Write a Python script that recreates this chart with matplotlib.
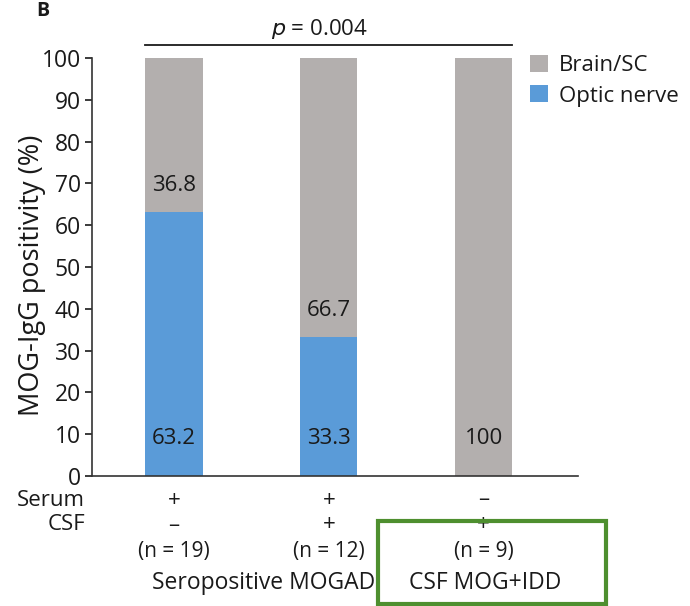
import matplotlib.pyplot as plt
from matplotlib.patches import Rectangle

plt.rcParams["font.family"] = ["Open Sans", "DejaVu Sans"]

groups = ["Seropositive MOGAD", "CSF MOG+IDD"]
n_counts = [19, 12, 9]
serum = ["+", "+", "\u2013"]
csf = ["\u2013", "+", "+"]
optic = [63.2, 33.3, 0]
brain = [36.8, 66.7, 100]

gray = "#b3afae"
blue = "#5a9bd8"
ink = "#1a1a1a"
fs = 16

fig = plt.figure(figsize=(6.9, 6.06), dpi=100)
ax = fig.add_axes([92 / 690, (606 - 476) / 606, (578 - 92) / 690, 418 / 606])

x = range(len(optic))
w = 0.37
ax.bar(x, optic, width=w, color=blue, label="Optic nerve")
ax.bar(x, brain, width=w, bottom=optic, color=gray, label="Brain/SC")

# value labels: bottom of bar and just above the optic nerve segment
for i in x:
    if optic[i] > 0:
        ax.text(i, 9, f"{optic[i]:.1f}", ha="center", va="center", fontsize=fs, color=ink)
        ax.text(i, optic[i] + 6.2, f"{brain[i]:.1f}", ha="center", va="center", fontsize=fs, color=ink)
    else:
        ax.text(i, 9, f"{brain[i]:.0f}", ha="center", va="center", fontsize=fs, color=ink)

ax.set_xlim(-0.53, 2.61)
ax.set_ylim(0, 100)
ax.set_yticks(range(0, 101, 10))
ax.tick_params(axis="y", labelsize=16.5, length=5, width=1.2, direction="out", colors=ink, pad=3)
ax.set_xticks([])
for s in ["top", "right"]:
    ax.spines[s].set_visible(False)
for s in ["left", "bottom"]:
    ax.spines[s].set_linewidth(1.2)
    ax.spines[s].set_color("#333333")
ax.set_ylabel("MOG-IgG positivity (%)", fontsize=19.5, color=ink)
ax.yaxis.set_label_coords(-0.095, 0.48)

# significance bracket
ax.plot([-w / 2, 2 + w / 2], [103.1, 103.1], color=ink, lw=1.3, clip_on=False)
ax.text(0.94, 107.0, r"$\it{p}$ = 0.004", ha="center", va="center", fontsize=fs, color=ink)

# legend
handles, labels = ax.get_legend_handles_labels()
ax.legend(handles[::-1], labels[::-1], loc="upper left", bbox_to_anchor=(0.883, 1.028),
          borderaxespad=0, frameon=False, fontsize=fs, handlelength=0.8, handleheight=0.8,
          handletextpad=0.5, labelspacing=0.4, labelcolor=ink)

# rows under the axis
tr = ax.get_xaxis_transform()


def fig_y(py):
    return 1 - py / 606


for row_label, vals, py in [("Serum", serum, 500), ("CSF", csf, 525)]:
    fig.text(85 / 690, fig_y(py), row_label, ha="right", va="center", fontsize=fs, color=ink)
    for i, v in enumerate(vals):
        ax.text(i, (476 - py) / 418, v, transform=tr, fontsize=fs, ha="center", va="center", color=ink)
for i, n in enumerate(n_counts):
    ax.text(i, (476 - 551) / 418, f"(n = {n})", transform=tr, ha="center", va="center",
            fontsize=15, color=ink)
fig.text(264 / 690, fig_y(583), groups[0], ha="center", va="center", fontsize=16.5, color=ink)
fig.text(485 / 690, fig_y(583), groups[1], ha="center", va="center", fontsize=16.5, color=ink)

fig.patches.append(Rectangle((378 / 690, fig_y(604)), 228 / 690, 83 / 606, transform=fig.transFigure,
                             fill=False, edgecolor="#4e8f2f", lw=3))

fig.text(36 / 690, 1 - 1 / 606, "B", fontsize=14, fontweight="bold", color=ink, ha="left", va="top")

fig.savefig("out.png", dpi=100)
